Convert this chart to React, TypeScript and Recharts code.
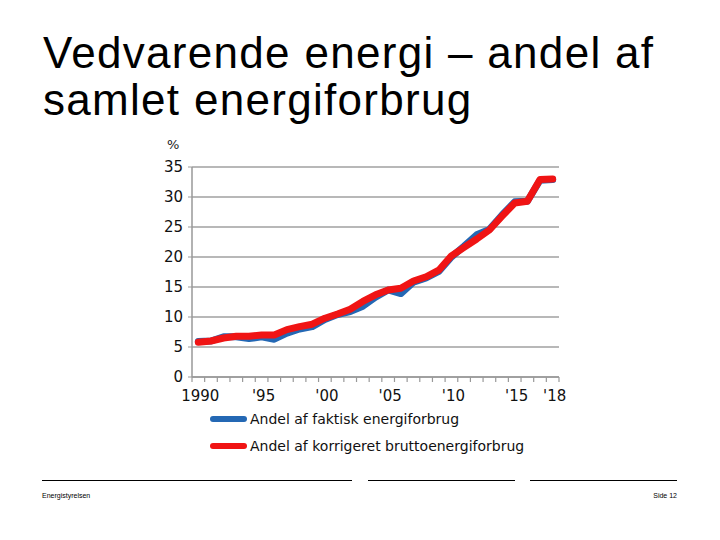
import React from 'react';
import { LineChart, Line, XAxis, YAxis, CartesianGrid } from 'recharts';

// years 1990..2018
const years = [
  '1990', '1991', '1992', '1993', '1994', '1995', '1996', '1997', '1998', '1999',
  '2000', '2001', '2002', '2003', '2004', '2005', '2006', '2007', '2008', '2009',
  '2010', '2011', '2012', '2013', '2014', '2015', '2016', '2017', '2018',
];
const yearLabels = [
  '1990', '', '', '', '', "'95", '', '', '', '',
  "'00", '', '', '', '', "'05", '', '', '', '',
  "'10", '', '', '', '', "'15", '', '', "'18",
];
const faktisk = [
  5.9, 6.0, 6.7, 6.7, 6.4, 6.7, 6.3, 7.3, 8.0, 8.4,
  9.6, 10.4, 10.9, 11.8, 13.3, 14.5, 13.9, 15.8, 16.5, 17.6,
  20.0, 21.8, 23.7, 24.6, 27.0, 29.2, 29.3, 32.8, 32.9,
];
const korrigeret = [
  5.8, 6.0, 6.5, 6.8, 6.8, 7.0, 7.0, 7.9, 8.4, 8.8,
  9.8, 10.5, 11.3, 12.6, 13.7, 14.5, 14.8, 16.0, 16.7, 17.8,
  20.2, 21.6, 23.0, 24.5, 26.8, 29.0, 29.3, 32.9, 33.0,
];
const yTicks = [0, 5, 10, 15, 20, 25, 30, 35];
const seriesNames = ['Andel af faktisk energiforbrug', 'Andel af korrigeret bruttoenergiforbrug'];
const seriesColors = ['#2468b4', '#f01414'];

const data = years.map((y, i) => ({
  year: y,
  label: yearLabels[i],
  faktisk: faktisk[i],
  korrigeret: korrigeret[i],
}));

const PLOT_LEFT = 192;
const PLOT_RIGHT = 559;
const PLOT_TOP = 167;
const PLOT_BOTTOM = 377;
const STEP = (PLOT_RIGHT - PLOT_LEFT) / years.length;
const tickFont = '"DejaVu Sans", Verdana, sans-serif';

const XTick = ({ x, y, payload, index }: any) => {
  const i = payload?.index ?? index;
  const last = i === years.length - 1;
  return (
    <g>
      <line x1={x - STEP / 2} x2={x - STEP / 2} y1={y} y2={y + 5} stroke="#999" strokeWidth={1.2} />
      {last && <line x1={x + STEP / 2} x2={x + STEP / 2} y1={y} y2={y + 5} stroke="#999" strokeWidth={1.2} />}
      <text x={x + 2} y={y + 24} textAnchor="middle" fontSize={15} fill="#111" fontFamily={tickFont}>
        {yearLabels[i]}
      </text>
    </g>
  );
};

const App = () => {
  return (
    <div
      style={{
        position: 'absolute',
        left: 0,
        top: 0,
        width: 720,
        height: 540,
        background: '#fff',
        fontFamily: '"Liberation Sans", Arial, sans-serif',
        overflow: 'hidden',
      }}
    >
      <div
        style={{
          position: 'absolute',
          left: 43,
          top: 29,
          fontSize: 44,
          lineHeight: '47px',
          letterSpacing: 1.3,
          color: '#000',
          whiteSpace: 'nowrap',
        }}
      >
        Vedvarende energi – andel af
        <br />
        samlet energiforbrug
      </div>

      <div style={{ position: 'absolute', left: 167, top: 137, fontSize: 13, fontFamily: tickFont, color: '#222' }}>%</div>

      <div style={{ position: 'absolute', left: 0, top: 0 }}>
        <LineChart
          width={720}
          height={540}
          data={data}
          margin={{ top: PLOT_TOP, right: 720 - PLOT_RIGHT, left: PLOT_LEFT - 40, bottom: 540 - PLOT_BOTTOM - 30 }}
        >
          <CartesianGrid vertical={false} stroke="#a0a0a0" strokeWidth={1.5} />
          <XAxis
            dataKey="year"
            interval={0}
            height={30}
            tickSize={0}
            tickMargin={0}
            padding={{ left: STEP / 2, right: STEP / 2 }}
            axisLine={{ stroke: '#999', strokeWidth: 1.5 }}
            tick={<XTick />}
          />
          <YAxis
            width={40}
            domain={[0, 35]}
            ticks={yTicks}
            interval={0}
            tickSize={4}
            tickMargin={5}
            axisLine={{ stroke: '#999', strokeWidth: 1.5 }}
            tickLine={{ stroke: '#999' }}
            tick={{ fill: '#111', fontSize: 15, fontFamily: tickFont }}
          />
          <Line
            type="linear"
            dataKey="faktisk"
            name={seriesNames[0]}
            stroke={seriesColors[0]}
            strokeWidth={7}
            strokeLinecap="round"
            strokeLinejoin="round"
            dot={false}
            isAnimationActive={false}
          />
          <Line
            type="linear"
            dataKey="korrigeret"
            name={seriesNames[1]}
            stroke={seriesColors[1]}
            strokeWidth={7}
            strokeLinecap="round"
            strokeLinejoin="round"
            dot={false}
            isAnimationActive={false}
          />
        </LineChart>
      </div>

      {seriesNames.map((name, i) => (
        <div
          key={name}
          style={{
            position: 'absolute',
            left: 210,
            top: 410 + i * 27,
            height: 18,
            display: 'flex',
            alignItems: 'center',
            fontFamily: tickFont,
            fontSize: 14,
            color: '#111',
            whiteSpace: 'nowrap',
          }}
        >
          <span
            style={{
              display: 'inline-block',
              width: 37,
              height: 6,
              borderRadius: 3,
              background: seriesColors[i],
              marginRight: 3,
            }}
          />
          {name}
        </div>
      ))}

      <div style={{ position: 'absolute', left: 42, top: 480, width: 310, borderTop: '1px solid #000' }} />
      <div style={{ position: 'absolute', left: 368, top: 480, width: 147, borderTop: '1px solid #000' }} />
      <div style={{ position: 'absolute', left: 530, top: 480, width: 147, borderTop: '1px solid #000' }} />
      <div style={{ position: 'absolute', left: 42, top: 492, fontSize: 7, color: '#000' }}>Energistyrelsen</div>
      <div style={{ position: 'absolute', right: 720 - 677, top: 492, fontSize: 7, color: '#000' }}>Side 12</div>
    </div>
  );
};

export default App;
